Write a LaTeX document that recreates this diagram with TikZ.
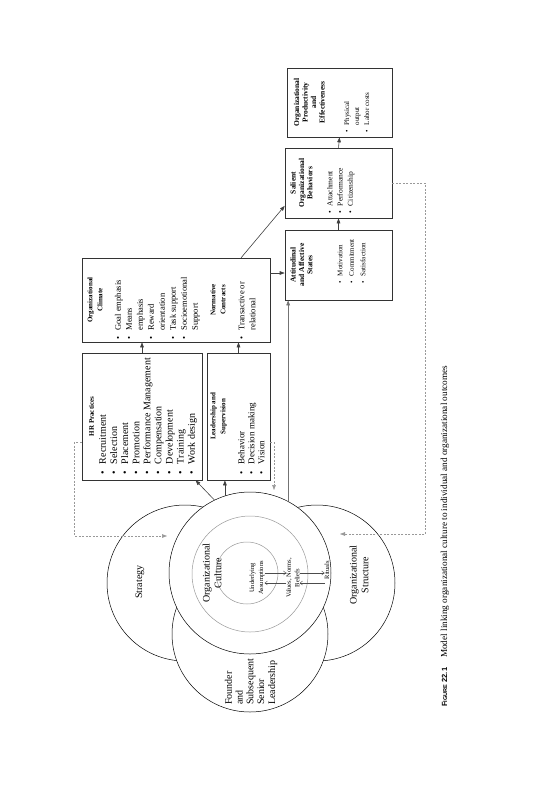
\documentclass[tikz,border=0pt]{standalone}
\usepackage{fontspec}
\setmainfont{Liberation Serif}
\setsansfont{Liberation Sans}
\usetikzlibrary{arrows.meta}

\newlength{\bindent}
\newcommand{\boxtext}[3]{\parbox[c][#2][t]{#1}{\raggedright #3}}
\newcommand{\headfont}[2]{\fontsize{#1}{#2}\bfseries\selectfont}
\newcommand{\listfont}[2]{\fontsize{#1}{#2}\selectfont}
\newcommand{\bitem}[1]{\par\hangindent=\bindent\hangafter=1\noindent\makebox[\bindent][l]{\textbullet}#1}

\begin{document}
\begin{tikzpicture}[x=1pt, y=-1pt,
    box/.style={draw=black!80, line width=0.6pt, rotate=90, inner sep=0pt},
    ring/.style={circle, draw=black, line width=0.5pt, fill=white, inner sep=0pt, minimum size=156pt},
    layer/.style={circle, draw=black!40, line width=0.5pt, inner sep=0pt},
    lbl/.style={rotate=90, align=center, inner sep=0pt},
    link/.style={draw=black!75, line width=0.6pt, -{Triangle[length=5pt,width=3.6pt]}},
    back/.style={draw=black!40, line width=0.5pt, dash pattern=on 2pt off 1.5pt, -{Triangle[length=5pt,width=3.6pt]}},
    small/.style={draw=black!70, line width=0.4pt, -{Straight Barb[length=2.5pt,width=4pt]}}]
    \useasboundingbox (0,0) rectangle (551,800);

    % die Kreise
    \node (strat) [ring] at (185,583) {};
    \node (struct) [ring] at (317,583) {};
    \node (found) [ring] at (250,634) {};
    \node (cult) [ring, minimum size=162pt] at (250,573) {};
    \node (vals) [layer, minimum size=116pt] at (250,574) {};
    \node (core) [layer, minimum size=62pt] at (247,573) {};

    \node (stratlbl) [lbl, font=\fontsize{10}{12}\selectfont] at (140,582) {Strategy};
    \node (cultlbl) [lbl, font=\fontsize{10}{11.7}\selectfont] at (212,573) {Organizational\\Culture};
    \node (assume) [lbl, font=\fontsize{6.5}{9}\selectfont] at (257,578) {Underlying\\Assumptions};
    \node (norms) [lbl, font=\fontsize{6.5}{8.5}\selectfont] at (293,578) {Values, Norms,\\Beliefs};
    \node (rites) [lbl, font=\fontsize{6.5}{8}\selectfont] at (327,570) {Rituals};
    \node (structlbl) [lbl, font=\fontsize{10}{11.7}\selectfont] at (359,575) {Organizational\\Structure};
    \node (foundlbl) [lbl, align=left, anchor=west, font=\fontsize{10}{10.8}\selectfont] at (251,705) {Founder\\and\\Subsequent\\Senior\\Leadership};

    % die Kaesten
    \node (hr) [box] at (142,416.5) {\boxtext{127pt}{120pt}{\vspace*{7pt}%
        {\centering\headfont{7}{8}HR Practices\par}\vspace{1pt}%
        \listfont{10}{11.1}\leftskip=6pt\bindent=10pt
        \bitem{Recruitment}\bitem{Selection}\bitem{Placement}\bitem{Promotion}
        \bitem{Performance Management}\bitem{Compensation}\bitem{Development}
        \bitem{Training}\bitem{Work design}\par}};
    \node (lead) [box] at (238.5,416.5) {\boxtext{127pt}{63pt}{\vspace*{3.5pt}%
        {\centering\headfont{7}{10}Leadership and\\Supervision\par}\vspace{9pt}%
        \listfont{9}{10}\leftskip=6pt\bindent=10pt
        \bitem{Behavior}\bitem{Decision making}\bitem{Vision}\par}};
    \node (clim) [box] at (176,300) {\boxtext{84pt}{188pt}{\vspace*{5.4pt}%
        {\centering\headfont{7}{10}Organizational\\Climate\par}\vspace{7.5pt}%
        \listfont{8.5}{11}\leftskip=3pt\bindent=8.5pt
        \bitem{Goal emphasis}\bitem{Means\newline emphasis}\bitem{Reward\newline orientation}
        \bitem{Task support}\bitem{Socioemotional\newline Support}\par\vspace{7.5pt}%
        {\centering\headfont{7}{10}Normative\\Contracts\par}\vspace{8pt}%
        \bitem{Transactive or\newline relational}\par}};
    \node (att) [box] at (338.5,265) {\boxtext{70pt}{107pt}{\vspace*{5.5pt}%
        {\centering\headfont{7.5}{8.3}Attitudinal\\and Affective\\States\par}\vspace{18.5pt}%
        \listfont{7}{11.5}\leftskip=17pt\bindent=7pt
        \bitem{Motivation}\bitem{Commitment}\bitem{Satisfaction}\par}};
    \node (sal) [box] at (338.5,183) {\boxtext{70pt}{107pt}{\vspace*{5.5pt}%
        {\centering\headfont{7.5}{8.3}Salient\\Organizational\\Behaviors\par}\vspace{9.7pt}%
        \listfont{7.5}{10.3}\leftskip=5pt\bindent=7pt
        \bitem{Attachment}\bitem{Performance}\bitem{Citizenship}\par}};
    \node (prod) [box] at (339.5,102.5) {\boxtext{69pt}{105pt}{\vspace*{7pt}%
        {\centering\headfont{7.5}{8.5}Organizational\\Productivity\\and\\Effectiveness\par}\vspace{14.5pt}%
        \listfont{7}{10}\leftskip=5pt\bindent=7pt
        \bitem{Physical\newline output}\bitem{Labor costs}\par}};

    \coordinate (attin) at ([yshift=-8pt]att.north);
    \coordinate (stratin) at (167,536);
    \coordinate (structin) at (340,534);
    \coordinate (cultin) at (274,490);

    % Pfeile
    \draw[link] (hr.east) -- (hr.east |- clim.west);
    \draw[link] (lead.east) -- (lead.east |- clim.west);
    \draw[link] (attin -| clim.south) -- (attin);
    \draw[link] (clim.-57.4) -- (sal.113.9);
    \draw[link] (att.east) -- (sal.west);
    \draw[link] (sal.east) -- (prod.west);
    \draw[link] (cult.116.6) -- (hr.220);
    \draw[link] (cult.108.7) -- (cult.108.7 |- lead.west);
    \draw[link, draw=black!55] (cult.62) -- (cult.62 |- att.west);
    \draw[back] (lead.231) -| (cultin);
    \draw[back] (hr.113) -- ++(-7,0) |- (stratin);
    \draw[back] (sal.south) -- ++(33,0) |- (structin);
    \draw[small] ([yshift=5pt]assume.south) -- ([yshift=5pt]assume.south -| norms.north);
    \draw[small] ([yshift=-5pt]assume.south -| norms.north) -- ([yshift=-5pt]assume.south);
    \draw[small] ([yshift=5pt]norms.south) -- ([yshift=5pt]norms.south -| rites.north);
    \draw[small] ([yshift=-5pt]norms.south -| rites.north) -- ([yshift=-5pt]norms.south);

    \node (cap) [rotate=90, anchor=base west, inner sep=0pt] at (447,707)
        {{\sffamily\bfseries\fontsize{7.5}{9}\selectfont F{\fontsize{5.6}{7}\selectfont IGURE} 22.1}\hspace{10pt}{\fontsize{9.2}{11}\selectfont Model linking organizational culture to individual and organizational outcomes}};
\end{tikzpicture}
\end{document}
